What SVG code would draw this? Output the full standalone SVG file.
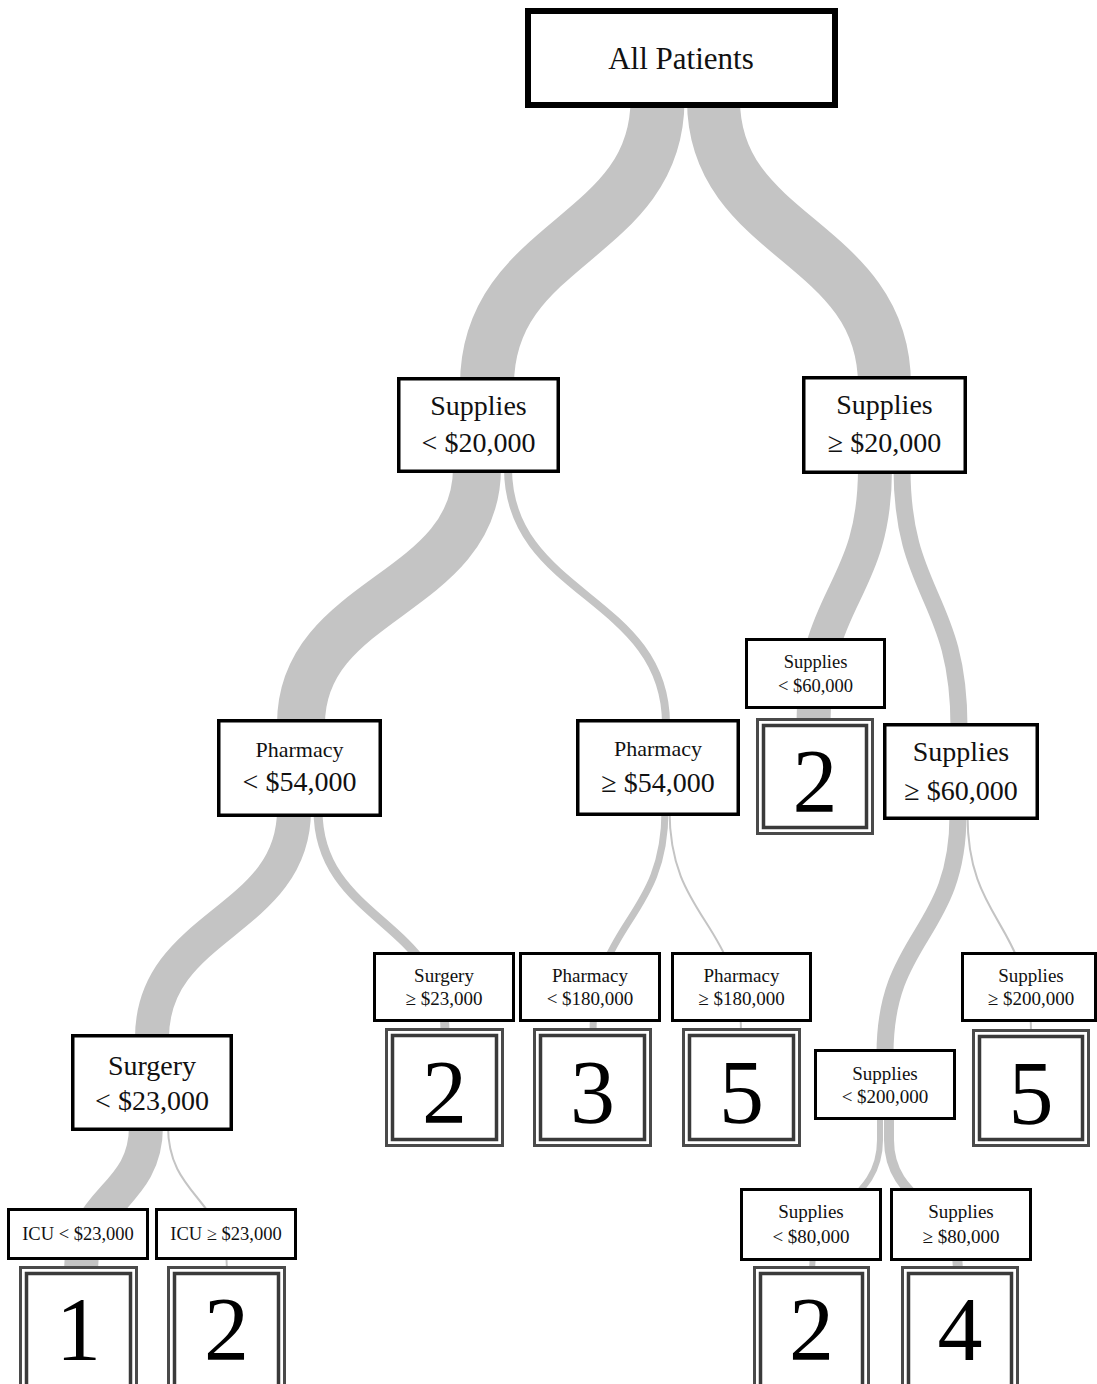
<svg xmlns="http://www.w3.org/2000/svg" width="1097" height="1384" viewBox="0 0 1097 1384">
<style>
.band{fill:none;stroke:#c4c4c4;stroke-linecap:butt}
.box{fill:#fff;stroke:#000;stroke-width:3}
.mid{stroke-width:3.5}
.root{stroke-width:6}
.lo{fill:#fff;stroke:#4a4a4a;stroke-width:3}
.li{fill:none;stroke:#3a3a3a;stroke-width:3.5}
text{font-family:"Liberation Serif","Times New Roman",serif;text-anchor:middle;fill:#111}
.t31{font-size:31px}
.t28{font-size:28px}
.t22{font-size:22px}
.t19{font-size:19px}
.t18{font-size:18.5px}
.num{font-size:90px;fill:#000}
</style>
<rect width="1097" height="1384" fill="#fff"/>
<g id="connectors">
<path class="band" stroke-width="54" d="M657.5 100 C657.5 240 487 240 487 385"/>
<path class="band" stroke-width="53" d="M713.5 100 C713.5 240 884.5 240 884.5 385"/>
<path class="band" stroke-width="48" d="M477 468 C477 596 301 596 301 724"/>
<path class="band" stroke-width="8" d="M508 468 C508 596 666 596 666 724"/>
<path class="band" stroke-width="34" d="M875 468 C875 594 813.5 594 813.5 722"/>
<path class="band" stroke-width="17" d="M902 468 C902 596 959 596 959 727"/>
<path class="band" stroke-width="34" d="M294 810 C294 923 152 923 152 1038"/>
<path class="band" stroke-width="9" d="M318 810 C318 921 445 921 445 1032"/>
<path class="band" stroke-width="34" d="M146 1126 C146 1198 81 1198 81 1270"/>
<path class="band" stroke-width="2" d="M168 1126 C168 1198 227 1198 227 1270"/>
<path class="band" stroke-width="7" d="M665 810 C665 921 593 921 593 1033"/>
<path class="band" stroke-width="2" d="M669.5 810 C669.5 921 741 921 741 1033"/>
<path class="band" stroke-width="17" d="M958 815 C958 935 885 935 885 1054"/>
<path class="band" stroke-width="2" d="M967.5 815 C967.5 923 1031 923 1031 1033"/>
<path class="band" stroke-width="6" d="M880 1115 V1140 C880 1205 812 1205 812 1270"/>
<path class="band" stroke-width="10" d="M889 1115 V1140 C889 1205 958 1205 958 1270"/>
</g>
<g id="n-root">
<rect class="box root" x="528" y="11" width="307" height="94"/>
<text class="t31" x="681" y="69">All Patients</text>
</g>
<g id="n-sup-lt-20k">
<rect class="box mid" x="398.75" y="378.75" width="159.5" height="92.5"/>
<text class="t28" x="478.5" y="415">Supplies</text>
<text class="t28" x="478.5" y="452">&lt; $20,000</text>
</g>
<g id="n-sup-ge-20k">
<rect class="box mid" x="803.75" y="377.75" width="161.5" height="94.5"/>
<text class="t28" x="884.5" y="414">Supplies</text>
<text class="t28" x="884.5" y="452">≥ $20,000</text>
</g>
<g id="n-ph-lt-54k">
<rect class="box mid" x="218.75" y="720.75" width="161.5" height="94.5"/>
<text class="t22" x="299.5" y="757">Pharmacy</text>
<text class="t28" x="299.5" y="791">&lt; $54,000</text>
</g>
<g id="n-ph-ge-54k">
<rect class="box mid" x="577.75" y="720.75" width="160.5" height="93.5"/>
<text class="t22" x="658" y="756">Pharmacy</text>
<text class="t28" x="658" y="792">≥ $54,000</text>
</g>
<g id="n-sup-lt-60k">
<rect class="box" x="746.5" y="639.5" width="138" height="68"/>
<text class="t18" x="815.5" y="668">Supplies</text>
<text class="t18" x="815.5" y="692">&lt; $60,000</text>
</g>
<g id="leaf-sup-lt-60k">
<rect class="lo" x="757.5" y="719.5" width="115" height="114"/>
<rect class="li" x="763.5" y="725.5" width="103" height="102"/>
<text class="num" x="815" y="812">2</text>
</g>
<g id="n-sup-ge-60k">
<rect class="box mid" x="884.75" y="724.75" width="152.5" height="93.5"/>
<text class="t28" x="961" y="761">Supplies</text>
<text class="t28" x="961" y="800">≥ $60,000</text>
</g>
<g id="n-sur-lt-23k">
<rect class="box mid" x="72.75" y="1035.75" width="158.5" height="93.5"/>
<text class="t28" x="152" y="1075">Surgery</text>
<text class="t28" x="152" y="1110">&lt; $23,000</text>
</g>
<g id="n-sur-ge-23k">
<rect class="box" x="374.5" y="953.5" width="139" height="67"/>
<text class="t19" x="444" y="982">Surgery</text>
<text class="t19" x="444" y="1005">≥ $23,000</text>
</g>
<g id="leaf-sur-ge-23k">
<rect class="lo" x="386.5" y="1029.5" width="116" height="116"/>
<rect class="li" x="392.5" y="1035.5" width="104" height="104"/>
<text class="num" x="444.5" y="1123">2</text>
</g>
<g id="n-ph-lt-180k">
<rect class="box" x="520.5" y="953.5" width="139" height="67"/>
<text class="t19" x="590" y="982">Pharmacy</text>
<text class="t19" x="590" y="1005">&lt; $180,000</text>
</g>
<g id="leaf-ph-lt-180k">
<rect class="lo" x="534.5" y="1029.5" width="116" height="116"/>
<rect class="li" x="540.5" y="1035.5" width="104" height="104"/>
<text class="num" x="592.5" y="1123">3</text>
</g>
<g id="n-ph-ge-180k">
<rect class="box" x="672.5" y="953.5" width="138" height="67"/>
<text class="t19" x="741.5" y="982">Pharmacy</text>
<text class="t19" x="741.5" y="1005">≥ $180,000</text>
</g>
<g id="leaf-ph-ge-180k">
<rect class="lo" x="683.5" y="1029.5" width="116" height="116"/>
<rect class="li" x="689.5" y="1035.5" width="104" height="104"/>
<text class="num" x="741.5" y="1123">5</text>
</g>
<g id="n-sup-ge-200k">
<rect class="box" x="962.5" y="953.5" width="133" height="67"/>
<text class="t19" x="1031" y="982">Supplies</text>
<text class="t19" x="1031" y="1005">≥ $200,000</text>
</g>
<g id="leaf-sup-ge-200k">
<rect class="lo" x="973.5" y="1030.5" width="115" height="115"/>
<rect class="li" x="979.5" y="1036.5" width="103" height="103"/>
<text class="num" x="1031" y="1124">5</text>
</g>
<g id="n-sup-lt-200k">
<rect class="box" x="815.5" y="1050.5" width="139" height="68"/>
<text class="t19" x="885" y="1080">Supplies</text>
<text class="t19" x="885" y="1103">&lt; $200,000</text>
</g>
<g id="n-icu-lt-23k">
<rect class="box" x="8.5" y="1209.5" width="139" height="49"/>
<text class="t18" x="78" y="1240">ICU &lt; $23,000</text>
</g>
<g id="leaf-icu-lt-23k">
<rect class="lo" x="20.5" y="1267.5" width="116" height="120"/>
<rect class="li" x="26.5" y="1273.5" width="104" height="120"/>
<text class="num" x="78.5" y="1360">1</text>
</g>
<g id="n-icu-ge-23k">
<rect class="box" x="156.5" y="1209.5" width="139" height="49"/>
<text class="t18" x="226" y="1240">ICU ≥ $23,000</text>
</g>
<g id="leaf-icu-ge-23k">
<rect class="lo" x="168.5" y="1267.5" width="116" height="120"/>
<rect class="li" x="174.5" y="1273.5" width="104" height="120"/>
<text class="num" x="226.5" y="1360">2</text>
</g>
<g id="n-sup-lt-80k">
<rect class="box" x="741.5" y="1189.5" width="139" height="70"/>
<text class="t19" x="811" y="1218">Supplies</text>
<text class="t19" x="811" y="1243">&lt; $80,000</text>
</g>
<g id="leaf-sup-lt-80k">
<rect class="lo" x="754.5" y="1267.5" width="114" height="120"/>
<rect class="li" x="760.5" y="1273.5" width="102" height="120"/>
<text class="num" x="811.5" y="1360">2</text>
</g>
<g id="n-sup-ge-80k">
<rect class="box" x="891.5" y="1189.5" width="139" height="70"/>
<text class="t19" x="961" y="1218">Supplies</text>
<text class="t19" x="961" y="1243">≥ $80,000</text>
</g>
<g id="leaf-sup-ge-80k">
<rect class="lo" x="902.5" y="1267.5" width="115" height="120"/>
<rect class="li" x="908.5" y="1273.5" width="103" height="120"/>
<text class="num" x="960" y="1360">4</text>
</g>
</svg>
